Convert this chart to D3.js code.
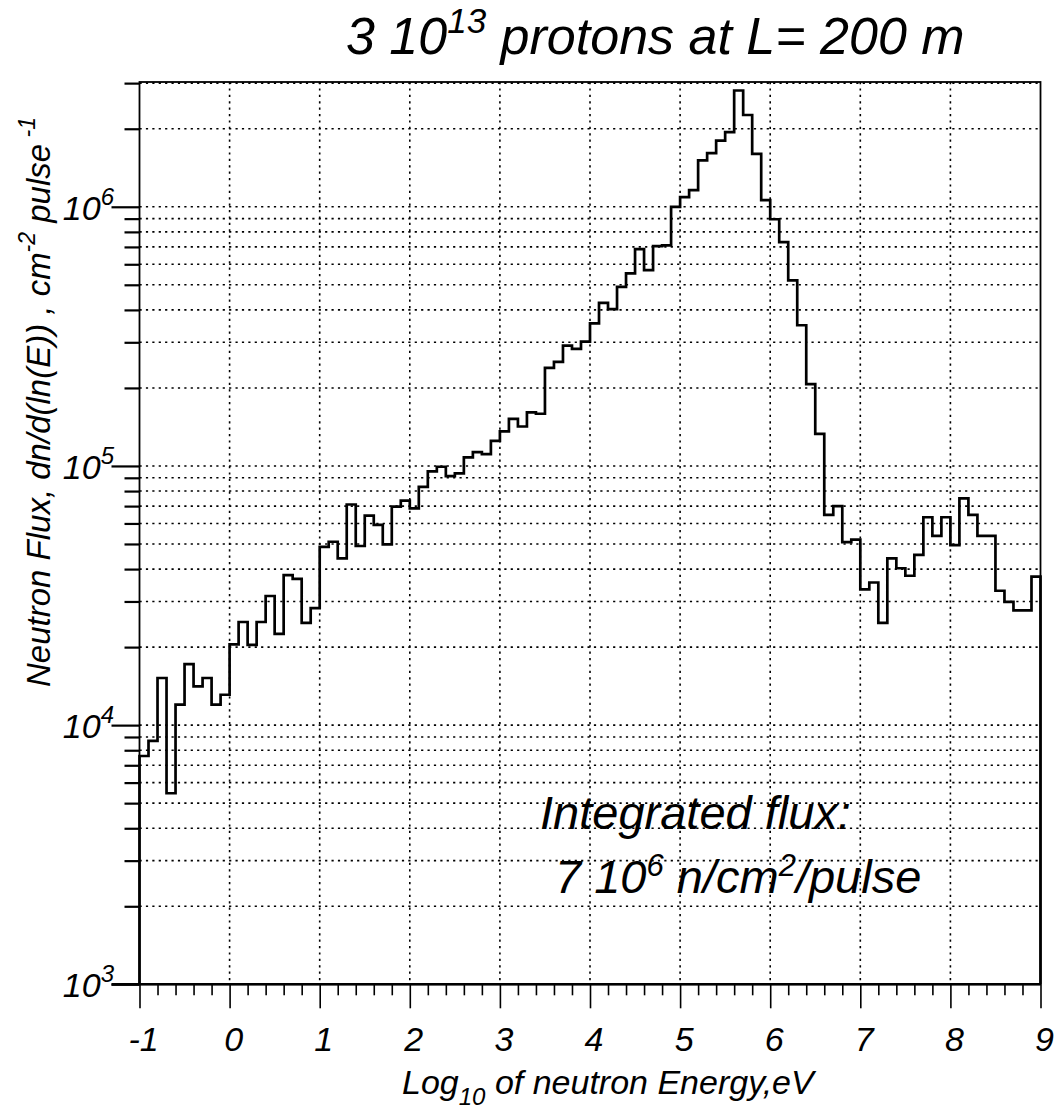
<!DOCTYPE html>
<html>
<head>
<meta charset="utf-8">
<script src="https://cdn.jsdelivr.net/npm/d3@7"></script>
<style>
  body { margin: 0; background: #fff; }
  svg text { font-family: "Liberation Sans", Arial, Helvetica, sans-serif; font-style: italic; fill: #000; }
</style>
</head>
<body>
<svg id="chart" width="1056" height="1115"></svg>
<script>
// Histogram: lower edge of the first bin and bin width, in log10(E/eV)
const binStart = -1.0;
const binWidth = 0.1;

// Neutron flux per bin, dn/d(ln E) in n / cm^2 / pulse
const flux = [
  7.6e3, 8.7e3, 1.52e4, 5.46e3, 1.2e4, 1.72e4, 1.41e4, 1.52e4, 1.2e4, 1.31e4,
  2.05e4, 2.5e4, 2.04e4, 2.5e4, 3.15e4, 2.25e4, 3.79e4, 3.67e4, 2.48e4, 2.83e4,
  4.87e4, 5.1e4, 4.4e4, 7.1e4, 4.91e4, 6.43e4, 5.92e4, 4.98e4, 6.97e4, 7.35e4,
  6.86e4, 8.3e4, 9.53e4, 9.93e4, 9.14e4, 9.36e4, 1.08e5, 1.13e5, 1.11e5, 1.25e5,
  1.36e5, 1.52e5, 1.42e5, 1.61e5, 1.59e5, 2.39e5, 2.52e5, 2.91e5, 2.83e5, 3.02e5,
  3.55e5, 4.26e5, 4.03e5, 4.91e5, 5.53e5, 6.87e5, 5.7e5, 7.05e5, 7.1e5, 1.0e6,
  1.09e6, 1.16e6, 1.51e6, 1.61e6, 1.8e6, 1.94e6, 2.81e6, 2.26e6, 1.6e6, 1.06e6,
  8.95e5, 7.3e5, 5.2e5, 3.49e5, 2.07e5, 1.33e5, 6.47e4, 7.0e4, 5.08e4, 5.2e4,
  3.34e4, 3.55e4, 2.48e4, 4.4e4, 4.03e4, 3.77e4, 4.54e4, 6.34e4, 5.37e4, 6.34e4,
  4.95e4, 7.5e4, 6.47e4, 5.37e4, 5.37e4, 3.3e4, 2.99e4, 2.77e4, 2.77e4, 3.74e4
];

// Axis ranges and tick labels
const xDomain = [-1, 9];
const yDomain = [1e3, 3.03e6];
const xTickValues = [-1, 0, 1, 2, 3, 4, 5, 6, 7, 8, 9];
const xTickLabels = ["-1", "0", "1", "2", "3", "4", "5", "6", "7", "8", "9"];
const xMinorStep = 0.2;
const yDecadeExponents = [3, 4, 5, 6];

const svg = d3.select("#chart");

const x = d3.scaleLinear().domain(xDomain).range([139.5, 1040.5]);
const y = d3.scaleLog().domain(yDomain).range([984.3, 82]);

const [x0, x1] = x.range();
const [yBottom, yTop] = y.range();

// Values 1..9 × each decade for the log axis
const yAllTicks = [];
yDecadeExponents.forEach(e => {
  for (let m = 1; m <= 9; m++) {
    const v = m * Math.pow(10, e);
    if (v <= yDomain[1]) yAllTicks.push(v);
  }
});
const yMajor = yDecadeExponents.map(e => Math.pow(10, e));
const yMinor = yAllTicks.filter(v => !yMajor.includes(v));

// Dotted grid
const grid = svg.append("g").attr("stroke", "#000").attr("stroke-width", 1.6)
  .attr("stroke-dasharray", "2.2,4.2").attr("fill", "none");
grid.selectAll("line.h").data(yAllTicks.filter(v => v > yDomain[0]))
  .join("line").attr("class", "h")
  .attr("x1", x0).attr("x2", x1)
  .attr("y1", d => y(d)).attr("y2", d => y(d));
grid.selectAll("line.v").data(xTickValues.filter(v => v > xDomain[0] && v < xDomain[1]))
  .join("line").attr("class", "v")
  .attr("x1", d => x(d)).attr("x2", d => x(d))
  .attr("y1", yTop).attr("y2", yBottom);

// Histogram outline (steps, closed down to the baseline at both ends)
const pts = [[binStart, yDomain[0]]];
flux.forEach((v, i) => {
  const lo = binStart + i * binWidth;
  pts.push([lo, v], [lo + binWidth, v]);
});
pts.push([binStart + flux.length * binWidth, yDomain[0]]);
const line = d3.line().x(d => x(d[0])).y(d => y(d[1]));
svg.append("path").attr("d", line(pts))
  .attr("fill", "none").attr("stroke", "#000").attr("stroke-width", 2.7)
  .attr("stroke-linejoin", "miter");

// Frame
svg.append("rect").attr("x", x0).attr("y", yTop)
  .attr("width", x1 - x0).attr("height", yBottom - yTop)
  .attr("fill", "none").attr("stroke", "#000").attr("stroke-width", 1.8);

// Left axis ticks
const leftMinor = svg.append("g").attr("transform", `translate(${x0},0)`)
  .call(d3.axisLeft(y).tickValues(yMinor).tickSize(15).tickSizeOuter(0).tickFormat(""));
const leftMajor = svg.append("g").attr("transform", `translate(${x0},0)`)
  .call(d3.axisLeft(y).tickValues(yMajor).tickSize(28).tickSizeOuter(0).tickFormat(""));
[leftMinor, leftMajor].forEach(g => {
  g.select(".domain").remove();
  g.selectAll(".tick line").attr("stroke-width", 2.2);
});

// Bottom axis ticks
const xMinor = d3.range(xDomain[0], xDomain[1] + 1e-6, xMinorStep)
  .filter(v => Math.abs(v - Math.round(v)) > 1e-6);
const botMinor = svg.append("g").attr("transform", `translate(0,${yBottom})`)
  .call(d3.axisBottom(x).tickValues(xMinor).tickSize(11).tickSizeOuter(0).tickFormat(""));
const botMajor = svg.append("g").attr("transform", `translate(0,${yBottom})`)
  .call(d3.axisBottom(x).tickValues(xTickValues).tickSize(24).tickSizeOuter(0).tickFormat(""));
[botMinor, botMajor].forEach(g => {
  g.select(".domain").remove();
  g.selectAll(".tick line").attr("stroke-width", 1.6);
});
svg.append("line").attr("x1", x0 - 28).attr("x2", x1).attr("y1", yBottom).attr("y2", yBottom)
  .attr("stroke", "#000").attr("stroke-width", 2.6);

// Y tick labels: 10^n
const yLab = svg.append("g").attr("font-size", 34).attr("text-anchor", "end");
yMajor.forEach((v, i) => {
  const t = yLab.append("text").attr("x", 114).attr("y", y(v) + 13);
  t.append("tspan").text("10");
  t.append("tspan").attr("font-size", 24).attr("dy", -15).text(String(yDecadeExponents[i]));
});

// X tick labels
svg.append("g").attr("font-size", 34).attr("text-anchor", "middle")
  .selectAll("text").data(xTickValues).join("text")
  .attr("x", d => x(d) + 4).attr("y", 1051)
  .text((d, i) => xTickLabels[i]);

// X axis title
const xt = svg.append("text").attr("x", 402).attr("y", 1094).attr("font-size", 34);
xt.append("tspan").text("Log");
xt.append("tspan").attr("font-size", 24).attr("dy", 11).text("10");
xt.append("tspan").attr("dy", -11).text(" of neutron Energy,eV");

// Y axis title
const yt = svg.append("text").attr("transform", "translate(50,402) rotate(-90)")
  .attr("text-anchor", "middle").attr("font-size", 33);
yt.append("tspan").text("Neutron Flux, dn/d(ln(E))  , cm");
yt.append("tspan").attr("font-size", 23).attr("dy", -15).text("-2");
yt.append("tspan").attr("dy", 15).text(" pulse");
yt.append("tspan").attr("font-size", 23).attr("dy", -15).text(" -1");

// Title
const tt = svg.append("text").attr("x", 346).attr("y", 54).attr("font-size", 52);
tt.append("tspan").text("3 10");
tt.append("tspan").attr("font-size", 35).attr("dy", -21).text("13");
tt.append("tspan").attr("dy", 21).text(" protons at L= 200 m");

// Integrated flux note
const n1 = svg.append("text").attr("x", 540).attr("y", 829).attr("font-size", 47);
n1.text("Integrated flux:");
const n2 = svg.append("text").attr("x", 555).attr("y", 893).attr("font-size", 47);
n2.append("tspan").text("7 10");
n2.append("tspan").attr("font-size", 31).attr("dy", -17).text("6");
n2.append("tspan").attr("dy", 17).text(" n/cm");
n2.append("tspan").attr("font-size", 31).attr("dy", -17).text("2");
n2.append("tspan").attr("dy", 17).text("/pulse");
</script>
</body>
</html>
